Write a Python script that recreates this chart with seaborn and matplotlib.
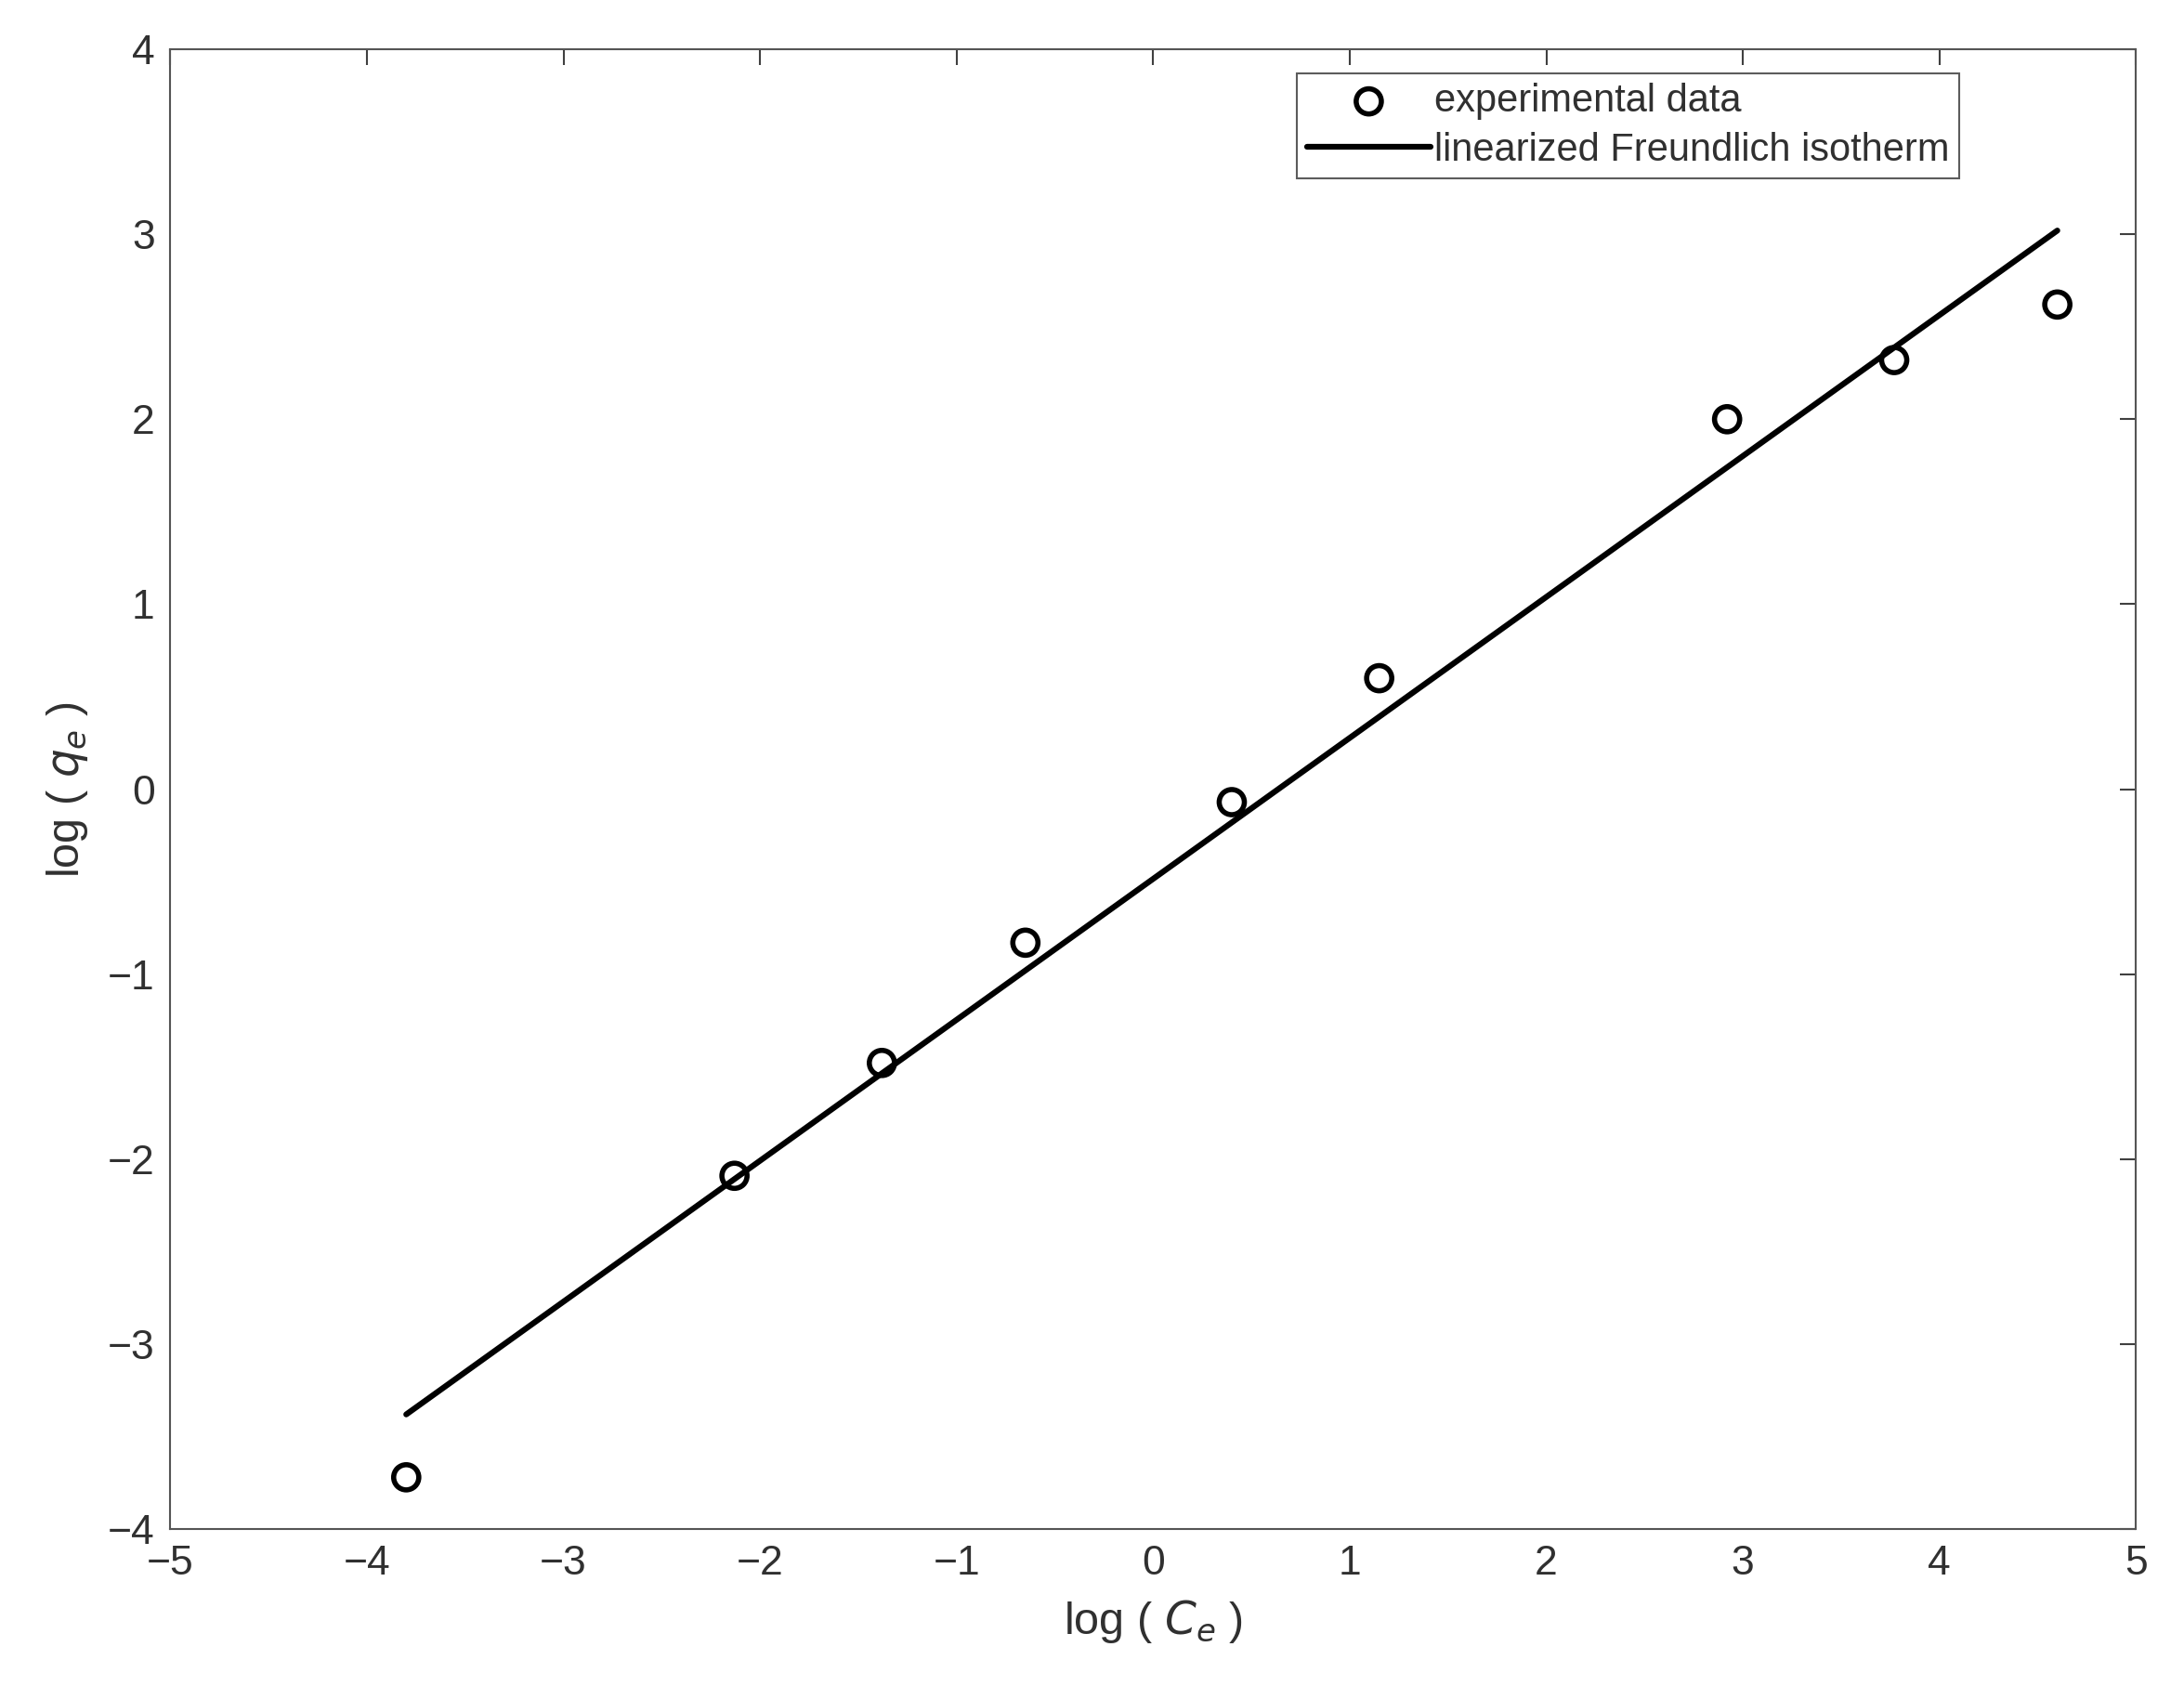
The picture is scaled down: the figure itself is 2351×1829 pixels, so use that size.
import matplotlib
matplotlib.use('Agg')
import matplotlib.pyplot as plt
import numpy as np
import pandas as pd
import seaborn as sns

sns.set_theme(style='white')
plt.rcParams['font.family'] = ['Liberation Sans', 'DejaVu Sans']

log_ce = [-3.8, -2.13, -1.38, -0.65, 0.4, 1.15, 2.92, 3.77, 4.6]
log_qe = [-3.72, -2.09, -1.48, -0.83, -0.07, 0.6, 2.0, 2.32, 2.62]
fit_x = [-3.8, 4.6]
fit_y = [-3.38, 3.02]

df = pd.DataFrame({'x': log_ce, 'y': log_qe})
fit = pd.DataFrame({'x': fit_x, 'y': fit_y})

fig = plt.figure(figsize=(23.51, 18.29), dpi=100)
ax = fig.add_axes([0.078, 0.1, 0.9, 0.871])

sns.scatterplot(data=df, x='x', y='y', ax=ax, marker='o', s=380,
                facecolor='none', edgecolor='black', linewidth=4,
                label='experimental data', zorder=3)
sns.lineplot(data=fit, x='x', y='y', ax=ax, color='black', linewidth=4.5,
             label='linearized Freundlich isotherm')

ax.set_xlim(-5, 5)
ax.set_ylim(-4, 4)
ax.set_xticks(range(-5, 6))
ax.set_yticks(range(-4, 5))
ax.tick_params(axis='both', labelsize=32, colors='#404040', direction='in',
               length=12, width=1.5, top=True, right=True, pad=12)
for lab in ax.get_xticklabels() + ax.get_yticklabels():
    lab.set_color('#303030')
for sp in ax.spines.values():
    sp.set_color('#555555')
    sp.set_linewidth(1.5)

ax.set_xlabel('log ( $C_e$ )', fontsize=35, color='#303030', labelpad=12)
ax.set_ylabel('log ( $q_e$ )', fontsize=35, color='#303030', labelpad=14)

leg = ax.legend(loc='upper right', bbox_to_anchor=(0.92, 0.997), fontsize=30,
                frameon=True, fancybox=False, edgecolor='#333333',
                handlelength=3.2, handletextpad=0.1, borderpad=0.25,
                labelspacing=0.3)
leg.get_frame().set_linewidth(1.5)
for t in leg.get_texts():
    t.set_color('#303030')

fig.savefig('out.png', dpi=100)
